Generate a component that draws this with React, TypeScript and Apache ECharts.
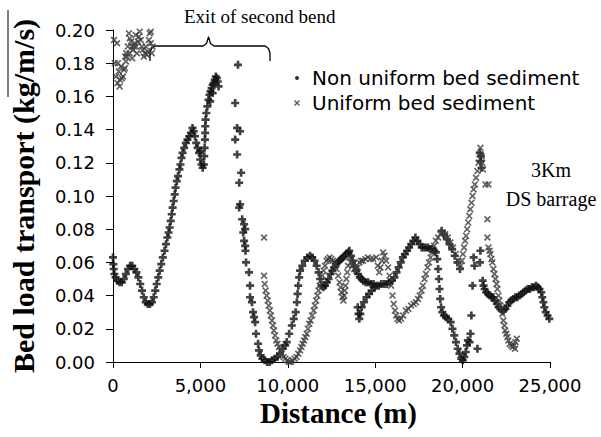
import React, { useEffect, useRef } from "react";
import * as echarts from "echarts";

// ---------- Data (distance in m, bed load transport in kg/m/s) ----------
const xTickValues = [0, 5000, 10000, 15000, 20000, 25000];
const yTickValues = [0, 0.02, 0.04, 0.06, 0.08, 0.1, 0.12, 0.14, 0.16, 0.18, 0.2];

const nonUniformA = [
  [0, 0.063], [20, 0.059], [40, 0.056], [80, 0.053], [150, 0.051], [250, 0.049], [370, 0.048], [500, 0.048],
  [620, 0.05], [740, 0.053], [860, 0.056], [980, 0.058], [1100, 0.058], [1220, 0.056], [1340, 0.054], [1450, 0.051],
  [1560, 0.047], [1660, 0.043], [1760, 0.039], [1870, 0.036], [1990, 0.035], [2110, 0.035], [2230, 0.036], [2330, 0.039],
  [2420, 0.043], [2500, 0.047], [2590, 0.051], [2670, 0.055], [2760, 0.059], [2850, 0.063], [2950, 0.067], [3030, 0.071],
  [3110, 0.075], [3180, 0.078], [3240, 0.081], [3300, 0.085], [3360, 0.089], [3410, 0.093], [3470, 0.097], [3530, 0.101],
  [3580, 0.105], [3650, 0.109], [3720, 0.112], [3800, 0.116], [3860, 0.119], [3920, 0.123], [3980, 0.126], [4070, 0.129],
  [4170, 0.132], [4260, 0.134], [4360, 0.136], [4460, 0.138], [4550, 0.141], [4620, 0.139], [4690, 0.136], [4760, 0.132],
  [4840, 0.129], [4920, 0.126], [4990, 0.122], [5060, 0.119], [5130, 0.117], [5000, 0.127],
];
const nonUniformB = [
  [5200, 0.119], [5220, 0.124], [5240, 0.129], [5260, 0.134], [5270, 0.138], [5280, 0.142], [5300, 0.146], [5340, 0.15],
  [5400, 0.154], [5460, 0.158], [5520, 0.161], [5580, 0.163], [5640, 0.165], [5700, 0.167], [5760, 0.168], [5820, 0.17],
  [5880, 0.172], [5940, 0.171], [5990, 0.169], [6040, 0.166], [5560, 0.157], [5700, 0.162],
];
const nonUniformC = [
  [7150, 0.179], [6990, 0.156], [7100, 0.141], [7270, 0.139], [6990, 0.134], [7100, 0.125], [7330, 0.114], [7220, 0.108],
  [7270, 0.095], [7220, 0.093], [7390, 0.086], [7500, 0.083], [7560, 0.08], [7450, 0.078], [7500, 0.073], [7560, 0.07],
  [7580, 0.067], [7610, 0.06], [7780, 0.054], [7840, 0.046], [7840, 0.039], [7950, 0.036], [8010, 0.03], [8070, 0.027],
  [8130, 0.024], [8180, 0.017], [8300, 0.011], [8350, 0.007],
];
const nonUniformD = [
  [8450, 0.004], [8550, 0.002], [8680, 0.001], [8820, 0.0], [8960, 0.0], [9100, 0.001], [9250, 0.002], [9400, 0.003],
  [9550, 0.005], [9700, 0.008], [9850, 0.01], [9940, 0.012], [10080, 0.017], [10230, 0.022], [10340, 0.026], [10450, 0.03],
  [10520, 0.036], [10560, 0.041], [10600, 0.046], [10650, 0.051], [10700, 0.055], [10830, 0.058], [10970, 0.061],
  [11120, 0.063], [11270, 0.064],
];
const nonUniformE = [
  [11400, 0.063], [11530, 0.061], [11650, 0.058], [11760, 0.054], [11850, 0.05], [11930, 0.046], [12030, 0.045],
  [12130, 0.046], [12230, 0.048], [12330, 0.05], [12450, 0.053], [12550, 0.055], [12650, 0.057], [12750, 0.059],
  [12850, 0.06], [12950, 0.061], [13050, 0.062], [13150, 0.063], [13250, 0.064], [13350, 0.065], [13450, 0.066],
  [13520, 0.067], [13620, 0.064], [13720, 0.061], [13820, 0.058], [13920, 0.055], [14020, 0.053], [14120, 0.051],
  [14220, 0.05], [14320, 0.049], [14450, 0.048], [14600, 0.048], [14750, 0.047], [14900, 0.047], [15050, 0.046],
  [15200, 0.046], [15350, 0.047], [15500, 0.047], [15650, 0.047], [15800, 0.048], [15950, 0.049], [16100, 0.051],
  [16220, 0.054], [16340, 0.057], [16460, 0.06], [16580, 0.063], [16700, 0.065], [16820, 0.067], [16940, 0.069],
  [17060, 0.071], [17180, 0.073], [17300, 0.075], [17420, 0.073], [17540, 0.071], [17660, 0.069], [17780, 0.069],
  [17900, 0.069], [18020, 0.069], [18140, 0.068], [18260, 0.068], [18380, 0.067], [18470, 0.066],
];
const nonUniformF = [
  [14000, 0.033], [14040, 0.029], [14090, 0.026], [14150, 0.029], [14230, 0.033], [14350, 0.036], [14500, 0.039],
  [14650, 0.041], [14800, 0.043], [14950, 0.045],
];
const nonUniformG = [
  [18550, 0.062], [18600, 0.056], [18640, 0.05], [18680, 0.044], [18720, 0.038], [18770, 0.033], [18840, 0.03],
  [18930, 0.028], [19050, 0.027], [19180, 0.026], [19320, 0.024], [19420, 0.02], [19520, 0.016], [19620, 0.012],
  [19720, 0.008], [19820, 0.005], [19920, 0.002], [20010, 0.001], [20100, 0.003], [20180, 0.006], [20250, 0.01],
  [20300, 0.013],
];
const nonUniformH = [
  [20400, 0.012], [20450, 0.017], [20850, 0.008], [20500, 0.028], [20570, 0.046], [20630, 0.063], [20680, 0.058],
  [21020, 0.067], [20990, 0.06], [20980, 0.126], [21030, 0.121], [21080, 0.117], [21050, 0.124],
  [18800, 0.079], [18950, 0.077], [19100, 0.074], [19250, 0.071], [19400, 0.068], [19550, 0.064], [19700, 0.06],
  [19850, 0.056],
];
const nonUniformI = [
  [21150, 0.049], [21200, 0.046], [21260, 0.044], [21350, 0.042], [21450, 0.041], [21560, 0.04], [21660, 0.039],
  [21760, 0.039], [21860, 0.037], [21960, 0.035], [22060, 0.033], [22160, 0.032], [22260, 0.031], [22350, 0.031],
  [22450, 0.032], [22560, 0.034], [22670, 0.036], [22780, 0.037], [22900, 0.038], [23020, 0.039], [23130, 0.039],
  [23250, 0.04], [23370, 0.041], [23490, 0.042], [23610, 0.043], [23730, 0.044], [23850, 0.044], [23970, 0.045],
  [24090, 0.045], [24200, 0.046], [24300, 0.045], [24400, 0.044], [24500, 0.042], [24560, 0.039], [24620, 0.036],
  [24680, 0.033], [24760, 0.03], [24860, 0.028], [24960, 0.026],
];

const uniformA = [
  [60, 0.194], [100, 0.18], [170, 0.172], [230, 0.192], [260, 0.168], [280, 0.18], [330, 0.175], [380, 0.166],
  [400, 0.17], [450, 0.178], [500, 0.171], [570, 0.172], [620, 0.176], [680, 0.177], [700, 0.184], [740, 0.181],
  [760, 0.186], [800, 0.184], [850, 0.19], [910, 0.198], [950, 0.186], [960, 0.195], [1020, 0.193], [1080, 0.19],
  [1100, 0.183], [1140, 0.188], [1200, 0.19], [1250, 0.192], [1300, 0.197], [1310, 0.19], [1370, 0.186], [1420, 0.193],
  [1480, 0.196], [1530, 0.199], [1590, 0.194], [1650, 0.19], [1700, 0.188], [1760, 0.184], [1820, 0.186], [1880, 0.19],
  [1940, 0.185], [1990, 0.187], [2050, 0.194], [2100, 0.198], [2160, 0.199], [2160, 0.192], [2220, 0.186], [2260, 0.19],
];
const uniformB = [
  [8640, 0.075], [8640, 0.052], [8680, 0.047], [8730, 0.043], [8790, 0.04], [8850, 0.037], [8910, 0.034], [8970, 0.031],
  [9030, 0.028], [9090, 0.025], [9150, 0.022], [9210, 0.019], [9270, 0.016], [9340, 0.013], [9410, 0.011], [9490, 0.009],
  [9570, 0.007], [9660, 0.005], [9760, 0.003], [9860, 0.002], [9960, 0.001], [10060, 0.0], [10170, 0.0], [10280, 0.001],
  [10390, 0.002], [10500, 0.003], [10600, 0.005], [10700, 0.007], [10780, 0.009], [10850, 0.011], [10930, 0.013],
  [11000, 0.015], [11080, 0.017], [11150, 0.02], [11230, 0.023], [11300, 0.025], [11390, 0.028], [11480, 0.031],
  [11550, 0.034], [11620, 0.037], [11690, 0.04], [11760, 0.043], [11830, 0.046], [11900, 0.049], [11980, 0.052],
  [12050, 0.055], [12130, 0.058], [12220, 0.061], [12300, 0.062], [12390, 0.063],
];
const uniformC = [
  [12490, 0.062], [12580, 0.061], [12680, 0.059], [12790, 0.056], [12880, 0.052], [12960, 0.048], [13020, 0.045],
  [13070, 0.042], [13130, 0.039], [13180, 0.037], [13220, 0.04], [13260, 0.043], [13300, 0.046], [13350, 0.05],
  [13400, 0.054], [13450, 0.058], [13520, 0.063], [13600, 0.06], [13700, 0.058], [13800, 0.056], [13920, 0.055],
  [14000, 0.057], [14100, 0.06], [14200, 0.061], [14300, 0.061], [14440, 0.062], [14580, 0.063], [14730, 0.062],
  [14890, 0.062], [15060, 0.063], [15150, 0.058], [15230, 0.054], [15300, 0.057], [15380, 0.061], [15450, 0.066],
  [15530, 0.064], [15620, 0.061], [15740, 0.057], [15820, 0.052], [15910, 0.046], [15990, 0.04], [16060, 0.035],
  [16130, 0.031], [16200, 0.028], [16280, 0.026], [16360, 0.025], [16480, 0.026], [16600, 0.028], [16760, 0.031],
  [16900, 0.032], [17050, 0.034], [17200, 0.035], [17330, 0.036], [17450, 0.038], [17550, 0.04], [17650, 0.043],
  [17730, 0.046], [17820, 0.05], [17900, 0.053], [17990, 0.057], [18070, 0.06], [18170, 0.063], [18270, 0.066],
  [18370, 0.07], [18470, 0.073], [18600, 0.075], [18730, 0.077], [18860, 0.078],
];
const uniformD = [
  [19000, 0.077], [19150, 0.075], [19300, 0.072], [19450, 0.069], [19600, 0.065], [19750, 0.061], [19890, 0.058],
  [19960, 0.061], [20020, 0.065], [20080, 0.069], [20140, 0.073], [20200, 0.076], [20260, 0.08], [20320, 0.084],
  [20380, 0.088], [20440, 0.092], [20510, 0.096], [20570, 0.1], [20630, 0.104], [20700, 0.107], [20770, 0.111],
  [20850, 0.115], [20910, 0.12], [20970, 0.125], [21020, 0.129], [21080, 0.124], [21120, 0.12], [21160, 0.116],
  [21310, 0.107], [21480, 0.107], [21420, 0.086], [21420, 0.075],
];
const uniformE = [
  [21480, 0.069], [21540, 0.067], [21590, 0.065], [21650, 0.062], [21700, 0.06], [21760, 0.056], [21820, 0.053],
  [21880, 0.05], [21940, 0.047], [21990, 0.044], [22050, 0.04], [22100, 0.037], [22160, 0.034], [22210, 0.032],
  [22270, 0.029], [22330, 0.025], [22390, 0.022], [22440, 0.019], [22500, 0.017], [22560, 0.015], [22620, 0.013],
  [22700, 0.011], [22780, 0.01], [22860, 0.009], [22950, 0.01], [23000, 0.008], [23030, 0.012], [23100, 0.014],
];

const nonUniformName = "Non uniform bed sediment";
const uniformName = "Uniform bed sediment";

const nonUniformData = [
  ...nonUniformA, ...nonUniformB, ...nonUniformC, ...nonUniformD, ...nonUniformE,
  ...nonUniformF, ...nonUniformG, ...nonUniformH, ...nonUniformI,
];
const uniformData = [...uniformA, ...uniformB, ...uniformC, ...uniformD, ...uniformE];

const PLUS = "path://M2,0L4,0L4,2L6,2L6,4L4,4L4,6L2,6L2,4L0,4L0,2L2,2Z";
const CROSS = "path://M0,1L1,0L3,2L5,0L6,1L4,3L6,5L5,6L3,4L1,6L0,5L2,3Z";

const fmtThousands = (v: number) => String(Math.round(v)).replace(/\B(?=(\d{3})+(?!\d))/g, ",");

export default function App() {
  const ref = useRef<HTMLDivElement>(null);
  useEffect(() => {
    if (!ref.current) return;
    const chart = echarts.init(ref.current, null, { renderer: "svg" });
    const serif = "'Liberation Serif', 'Times New Roman', serif";
    const sans = "'DejaVu Sans', sans-serif";
    chart.setOption({
      animation: false,
      backgroundColor: "#fff",
      grid: { left: 110, right: 51, top: 30, bottom: 75, containLabel: false },
      xAxis: {
        type: "value",
        min: xTickValues[0],
        max: xTickValues[xTickValues.length - 1],
        interval: 5000,
        name: "Distance (m)",
        nameLocation: "middle",
        nameGap: 30,
        nameTextStyle: { fontFamily: serif, fontSize: 29, fontWeight: "bold", color: "#000", padding: [0, 0, 0, 14] },
        axisLine: { show: true, lineStyle: { color: "#000", width: 1 } },
        axisTick: { show: true, inside: false, length: 6, lineStyle: { color: "#000" } },
        axisLabel: { fontFamily: sans, fontSize: 18, color: "#000", margin: 14, formatter: fmtThousands },
        splitLine: { show: false },
      },
      yAxis: {
        type: "value",
        min: yTickValues[0],
        max: yTickValues[yTickValues.length - 1],
        interval: 0.02,
        name: "Bed load transport (kg/m/s)",
        nameLocation: "middle",
        nameGap: 75,
        nameTextStyle: { fontFamily: serif, fontSize: 30, fontWeight: "bold", color: "#000" },
        axisLine: { show: true, lineStyle: { color: "#000", width: 1 } },
        axisTick: { show: true, inside: false, length: 7, lineStyle: { color: "#000" } },
        axisLabel: { fontFamily: sans, fontSize: 18, color: "#000", margin: 18, formatter: (v: number) => v.toFixed(2) },
        splitLine: { show: false },
      },
      legend: [
        {
          data: [nonUniformName],
          left: 295,
          top: 67,
          padding: 0,
          selectedMode: false,
          itemWidth: 4,
          itemHeight: 4,
          icon: "circle",
          itemStyle: { color: "#000" },
          textStyle: { fontFamily: sans, fontSize: 20, color: "#000", lineHeight: 22, padding: [0, 0, 0, 8] },
        },
        {
          data: [uniformName],
          left: 294,
          top: 92,
          padding: 0,
          selectedMode: false,
          itemWidth: 6,
          itemHeight: 6,
          icon: CROSS,
          itemStyle: { color: "#333" },
          textStyle: { fontFamily: sans, fontSize: 20, color: "#000", lineHeight: 22, padding: [0, 0, 0, 7] },
        },
      ],
      graphic: [
        { type: "line", shape: { x1: 8, y1: 10, x2: 8, y2: 97 }, style: { stroke: "#000", lineWidth: 1 } },
        {
          type: "polyline",
          shape: {
            points: [
              [150, 61], [150, 53], [151.5, 48.5], [155, 46], [203, 46], [206.5, 43.5], [208.5, 37],
              [210.5, 43.5], [214, 46], [265, 46], [268.5, 48.5], [270, 53], [270, 61],
            ],
          },
          style: { stroke: "#000", lineWidth: 1.3, fill: "none", lineJoin: "round" },
        },
        {
          type: "text",
          left: 184,
          top: 7,
          style: { text: "Exit of second bend", fontFamily: serif, fontSize: 19, fill: "#000" },
        },
        {
          type: "text",
          x: 551,
          y: 184,
          style: {
            text: "3Km\nDS barrage",
            fontFamily: serif,
            fontSize: 20,
            lineHeight: 29,
            fill: "#000",
            align: "center",
            verticalAlign: "middle",
          },
        },
      ],
      series: [
        {
          name: nonUniformName,
          type: "scatter",
          data: nonUniformData,
          symbol: PLUS,
          symbolSize: 8,
          itemStyle: { color: "#111" },
          clip: true,
        },
        {
          name: uniformName,
          type: "scatter",
          data: uniformData,
          symbol: CROSS,
          symbolSize: 7,
          itemStyle: { color: "#3c3c3c" },
          clip: true,
        },
      ],
    });
    return () => chart.dispose();
  }, []);
  return <div ref={ref} style={{ position: "fixed", left: 0, top: 0, width: 601, height: 437 }} />;
}
